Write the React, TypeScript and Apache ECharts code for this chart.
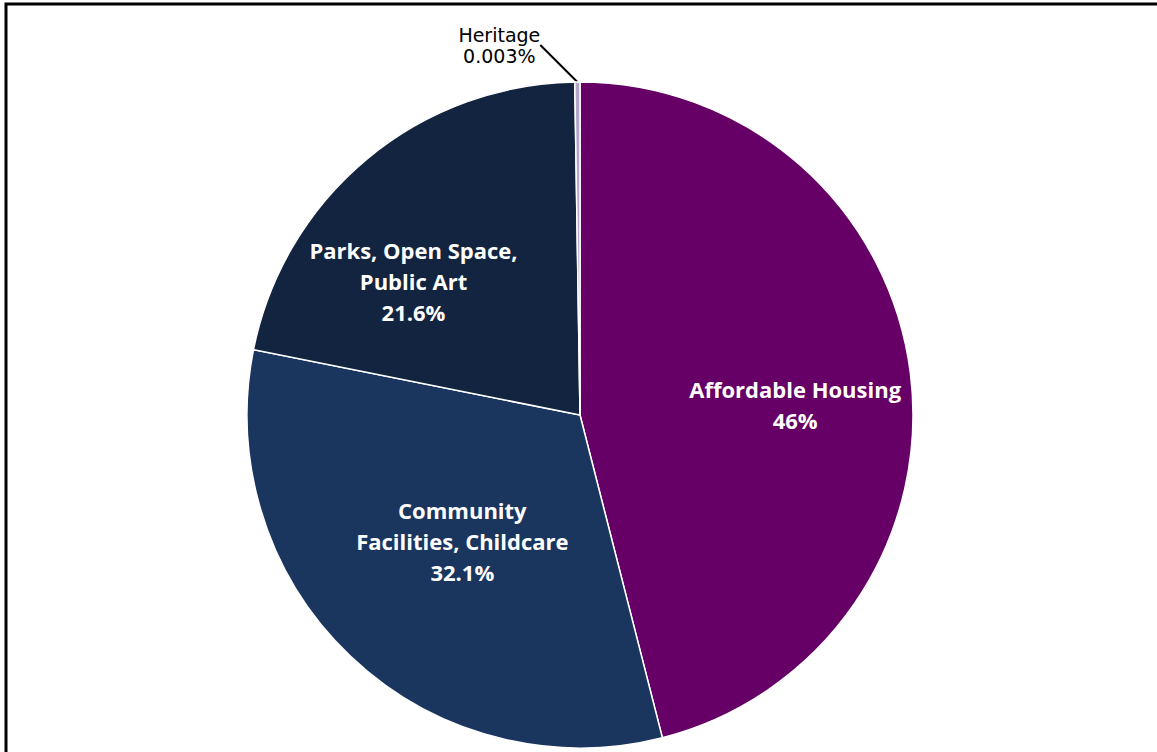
import React, { useEffect, useRef } from "react";
import * as echarts from "echarts";

const categories = [
  "Affordable Housing",
  "Community\nFacilities, Childcare",
  "Parks, Open Space,\nPublic Art",
  "Heritage",
];
const values = [46, 32.1, 21.6, 0.003];
const valueLabels = ["46%", "32.1%", "21.6%", "0.003%"];
const colors = ["#660066", "#1a365f", "#12243f", "#b3a6c8"];
// label nudges relative to the library's own label position (style only)
const labelNudges = [
  { dx: 47, dy: 11 },
  { dx: -1, dy: 3 },
  { dx: -58, dy: -4 },
  { dx: -32, dy: -25 },
];

export default function App() {
  const ref = useRef<HTMLDivElement>(null);
  useEffect(() => {
    if (!ref.current) return;
    const chart = echarts.init(ref.current, null, { renderer: "svg" });
    chart.setOption({
      animation: false,
      backgroundColor: "#ffffff",
      graphic: [
        {
          type: "rect",
          shape: { x: 6, y: 4, width: 1300, height: 900 },
          style: { fill: "none", stroke: "#000", lineWidth: 3 },
          silent: true,
        },
      ],
      series: [
        {
          type: "pie",
          center: [580, 415],
          radius: 333,
          startAngle: 90,
          clockwise: true,
          minAngle: 0.9,
          avoidLabelOverlap: false,
          itemStyle: { borderColor: "#ffffff", borderWidth: 1.5 },
          label: {
            show: true,
            position: "inside",
            color: "#ffffff",
            fontFamily: "Open Sans",
            fontWeight: "bold",
            fontSize: 22,
            lineHeight: 31,
            align: "center",
            formatter: (p: any) => `${categories[p.dataIndex]}\n${valueLabels[p.dataIndex]}`,
          },
          labelLayout: (p: any) => {
            const n = labelNudges[p.dataIndex];
            if (p.dataIndex === 3) {
              const r = p.labelRect;
              return {
                x: r.x + r.width / 2 + n.dx,
                y: r.y + r.height / 2 + n.dy,
                align: "center",
                verticalAlign: "middle",
              };
            }
            return n;
          },
          data: categories.map((c, i) => ({
            name: c,
            value: values[i],
            itemStyle: { color: colors[i] },
            ...(i === 3
              ? {
                  label: {
                    position: "outside",
                    color: "#000000",
                    fontFamily: "DejaVu Sans",
                    fontWeight: "normal",
                    fontSize: 19,
                    lineHeight: 21,
                  },
                  labelLine: {
                    show: true,
                    length: 12,
                    length2: 0,
                    smooth: false,
                    lineStyle: { color: "#000", width: 2 },
                  },
                }
              : { labelLine: { show: false } }),
          })),
        },
      ],
    });
    return () => chart.dispose();
  }, []);
  return (
    <div
      ref={ref}
      style={{ position: "fixed", left: 0, top: 0, width: 1157, height: 752 }}
    />
  );
}
